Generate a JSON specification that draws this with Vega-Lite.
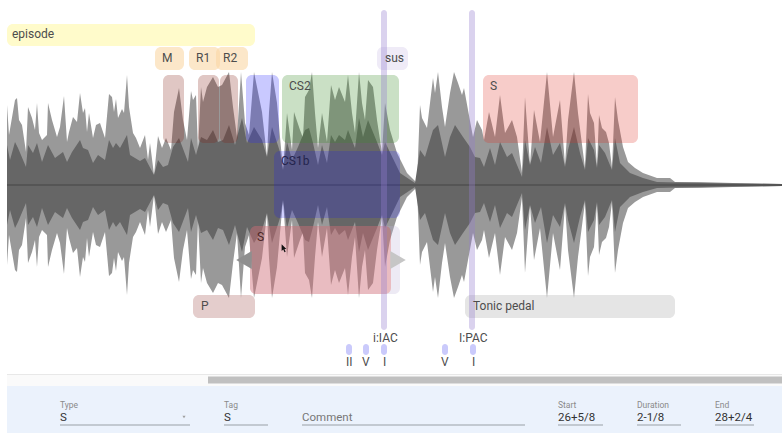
{"$schema":"https://vega.github.io/schema/vega-lite/v6.json","width":782,"height":433,"padding":0,"autosize":{"type":"fit","contains":"padding"},"background":"white","config":{"view":{"stroke":null}},
"datasets":{
"peak":[{"t":7,"hi":80,"lo":-80},{"t":9,"hi":50,"lo":-50},{"t":15,"hi":85,"lo":-85},{"t":17,"hi":87,"lo":-87},{"t":19,"hi":65,"lo":-65},{"t":22,"hi":60,"lo":-60},{"t":26,"hi":33,"lo":-33},{"t":28,"hi":78,"lo":-78},{"t":32,"hi":67,"lo":-67},{"t":35,"hi":55,"lo":-55},{"t":37,"hi":82,"lo":-82},{"t":39,"hi":52,"lo":-52},{"t":42,"hi":45,"lo":-45},{"t":47,"hi":50,"lo":-50},{"t":48,"hi":82,"lo":-82},{"t":52,"hi":65,"lo":-65},{"t":57,"hi":48,"lo":-48},{"t":60,"hi":58,"lo":-58},{"t":64,"hi":89,"lo":-89},{"t":67,"hi":43,"lo":-43},{"t":69,"hi":53,"lo":-53},{"t":73,"hi":68,"lo":-68},{"t":77,"hi":63,"lo":-63},{"t":80,"hi":92,"lo":-92},{"t":83,"hi":72,"lo":-72},{"t":85,"hi":77,"lo":-77},{"t":87,"hi":53,"lo":-53},{"t":89,"hi":72,"lo":-72},{"t":93,"hi":47,"lo":-47},{"t":96,"hi":60,"lo":-60},{"t":100,"hi":62,"lo":-62},{"t":105,"hi":47,"lo":-47},{"t":109,"hi":91,"lo":-91},{"t":112,"hi":88,"lo":-88},{"t":114,"hi":73,"lo":-73},{"t":116,"hi":86,"lo":-86},{"t":118,"hi":67,"lo":-67},{"t":122,"hi":76,"lo":-76},{"t":124,"hi":72,"lo":-72},{"t":127,"hi":110,"lo":-110},{"t":129,"hi":78,"lo":-78},{"t":133,"hi":52,"lo":-52},{"t":136,"hi":47,"lo":-47},{"t":140,"hi":37,"lo":-37},{"t":145,"hi":50,"lo":-50},{"t":148,"hi":25,"lo":-25},{"t":150,"hi":42,"lo":-42},{"t":154,"hi":10,"lo":-10},{"t":158,"hi":49,"lo":-49},{"t":162,"hi":37,"lo":-37},{"t":166,"hi":47,"lo":-47},{"t":171,"hi":35,"lo":-35},{"t":174,"hi":73,"lo":-73},{"t":179,"hi":97,"lo":-97},{"t":183,"hi":65,"lo":-65},{"t":187,"hi":45,"lo":-45},{"t":191,"hi":94,"lo":-94},{"t":193,"hi":85,"lo":-85},{"t":196,"hi":90,"lo":-90},{"t":198,"hi":35,"lo":-35},{"t":201,"hi":98,"lo":-98},{"t":203,"hi":83,"lo":-83},{"t":207,"hi":98,"lo":-98},{"t":213,"hi":108,"lo":-108},{"t":218,"hi":98,"lo":-98},{"t":222,"hi":100,"lo":-100},{"t":229,"hi":113,"lo":-113},{"t":233,"hi":78,"lo":-78},{"t":237,"hi":48,"lo":-48},{"t":241,"hi":113,"lo":-113},{"t":245,"hi":62,"lo":-62},{"t":249,"hi":50,"lo":-50},{"t":254,"hi":113,"lo":-113},{"t":262,"hi":73,"lo":-73},{"t":267,"hi":28,"lo":-28},{"t":269,"hi":73,"lo":-73},{"t":272,"hi":113,"lo":-113},{"t":277,"hi":82,"lo":-82},{"t":280,"hi":48,"lo":-48},{"t":283,"hi":15,"lo":-15},{"t":287,"hi":72,"lo":-72},{"t":292,"hi":35,"lo":-35},{"t":294,"hi":73,"lo":-73},{"t":300,"hi":55,"lo":-55},{"t":303,"hi":47,"lo":-47},{"t":305,"hi":88,"lo":-88},{"t":309,"hi":95,"lo":-95},{"t":312,"hi":113,"lo":-113},{"t":315,"hi":72,"lo":-72},{"t":318,"hi":37,"lo":-37},{"t":322,"hi":72,"lo":-72},{"t":327,"hi":43,"lo":-43},{"t":331,"hi":100,"lo":-100},{"t":335,"hi":85,"lo":-85},{"t":339,"hi":98,"lo":-98},{"t":345,"hi":83,"lo":-83},{"t":348,"hi":110,"lo":-110},{"t":352,"hi":72,"lo":-72},{"t":355,"hi":52,"lo":-52},{"t":359,"hi":113,"lo":-113},{"t":362,"hi":82,"lo":-82},{"t":365,"hi":65,"lo":-65},{"t":368,"hi":105,"lo":-105},{"t":373,"hi":98,"lo":-98},{"t":377,"hi":65,"lo":-65},{"t":382,"hi":32,"lo":-32},{"t":385,"hi":82,"lo":-82},{"t":390,"hi":55,"lo":-55},{"t":397,"hi":32,"lo":-32},{"t":407,"hi":12,"lo":-12},{"t":417,"hi":2,"lo":-2},{"t":420,"hi":80,"lo":-80},{"t":422,"hi":67,"lo":-67},{"t":427,"hi":57,"lo":-57},{"t":433,"hi":107,"lo":-107},{"t":435,"hi":92,"lo":-92},{"t":438,"hi":113,"lo":-113},{"t":442,"hi":78,"lo":-78},{"t":445,"hi":58,"lo":-58},{"t":450,"hi":92,"lo":-92},{"t":454,"hi":113,"lo":-113},{"t":458,"hi":102,"lo":-102},{"t":462,"hi":90,"lo":-90},{"t":464,"hi":97,"lo":-97},{"t":468,"hi":75,"lo":-75},{"t":473,"hi":48,"lo":-48},{"t":477,"hi":65,"lo":-65},{"t":482,"hi":55,"lo":-55},{"t":484,"hi":45,"lo":-45},{"t":489,"hi":73,"lo":-73},{"t":495,"hi":48,"lo":-48},{"t":500,"hi":90,"lo":-90},{"t":505,"hi":52,"lo":-52},{"t":512,"hi":65,"lo":-65},{"t":517,"hi":48,"lo":-48},{"t":522,"hi":12,"lo":-12},{"t":525,"hi":88,"lo":-88},{"t":530,"hi":20,"lo":-20},{"t":534,"hi":75,"lo":-75},{"t":540,"hi":43,"lo":-43},{"t":547,"hi":113,"lo":-113},{"t":553,"hi":48,"lo":-48},{"t":560,"hi":85,"lo":-85},{"t":565,"hi":20,"lo":-20},{"t":568,"hi":65,"lo":-65},{"t":574,"hi":113,"lo":-113},{"t":578,"hi":72,"lo":-72},{"t":585,"hi":17,"lo":-17},{"t":588,"hi":91,"lo":-91},{"t":590,"hi":72,"lo":-72},{"t":594,"hi":62,"lo":-62},{"t":597,"hi":18,"lo":-18},{"t":599,"hi":70,"lo":-70},{"t":602,"hi":57,"lo":-57},{"t":606,"hi":53,"lo":-53},{"t":609,"hi":42,"lo":-42},{"t":612,"hi":17,"lo":-17},{"t":615,"hi":88,"lo":-88},{"t":618,"hi":65,"lo":-65},{"t":623,"hi":38,"lo":-38},{"t":628,"hi":23,"lo":-23},{"t":635,"hi":17,"lo":-17},{"t":643,"hi":12,"lo":-12},{"t":657,"hi":7,"lo":-7},{"t":670,"hi":7,"lo":-7},{"t":675,"hi":3,"lo":-3},{"t":700,"hi":3,"lo":-3},{"t":733,"hi":2,"lo":-2},{"t":782,"hi":1,"lo":-1}],
"rms":[{"t":7,"hi":40,"lo":-40},{"t":10,"hi":25,"lo":-25},{"t":15,"hi":43,"lo":-43},{"t":18,"hi":37,"lo":-37},{"t":26,"hi":18,"lo":-18},{"t":28,"hi":40,"lo":-40},{"t":33,"hi":32,"lo":-32},{"t":37,"hi":42,"lo":-42},{"t":42,"hi":23,"lo":-23},{"t":48,"hi":40,"lo":-40},{"t":55,"hi":27,"lo":-27},{"t":63,"hi":33,"lo":-33},{"t":67,"hi":23,"lo":-23},{"t":72,"hi":33,"lo":-33},{"t":80,"hi":45,"lo":-45},{"t":83,"hi":37,"lo":-37},{"t":88,"hi":35,"lo":-35},{"t":93,"hi":22,"lo":-22},{"t":98,"hi":30,"lo":-30},{"t":105,"hi":25,"lo":-25},{"t":109,"hi":45,"lo":-45},{"t":113,"hi":37,"lo":-37},{"t":116,"hi":42,"lo":-42},{"t":120,"hi":37,"lo":-37},{"t":127,"hi":50,"lo":-50},{"t":130,"hi":30,"lo":-30},{"t":140,"hi":24,"lo":-24},{"t":145,"hi":27,"lo":-27},{"t":154,"hi":10,"lo":-10},{"t":158,"hi":25,"lo":-25},{"t":163,"hi":18,"lo":-18},{"t":168,"hi":20,"lo":-20},{"t":173,"hi":38,"lo":-38},{"t":179,"hi":47,"lo":-47},{"t":188,"hi":23,"lo":-23},{"t":191,"hi":47,"lo":-47},{"t":196,"hi":30,"lo":-30},{"t":201,"hi":48,"lo":-48},{"t":207,"hi":45,"lo":-45},{"t":213,"hi":55,"lo":-55},{"t":218,"hi":43,"lo":-43},{"t":223,"hi":45,"lo":-45},{"t":229,"hi":60,"lo":-60},{"t":235,"hi":40,"lo":-40},{"t":242,"hi":67,"lo":-67},{"t":247,"hi":42,"lo":-42},{"t":254,"hi":58,"lo":-58},{"t":262,"hi":45,"lo":-45},{"t":267,"hi":28,"lo":-28},{"t":272,"hi":58,"lo":-58},{"t":280,"hi":33,"lo":-33},{"t":283,"hi":15,"lo":-15},{"t":287,"hi":43,"lo":-43},{"t":292,"hi":25,"lo":-25},{"t":298,"hi":38,"lo":-38},{"t":305,"hi":55,"lo":-55},{"t":309,"hi":57,"lo":-57},{"t":313,"hi":42,"lo":-42},{"t":318,"hi":20,"lo":-20},{"t":322,"hi":40,"lo":-40},{"t":327,"hi":22,"lo":-22},{"t":331,"hi":50,"lo":-50},{"t":335,"hi":43,"lo":-43},{"t":339,"hi":50,"lo":-50},{"t":345,"hi":45,"lo":-45},{"t":348,"hi":55,"lo":-55},{"t":355,"hi":37,"lo":-37},{"t":359,"hi":67,"lo":-67},{"t":363,"hi":48,"lo":-48},{"t":368,"hi":65,"lo":-65},{"t":377,"hi":43,"lo":-43},{"t":382,"hi":30,"lo":-30},{"t":385,"hi":43,"lo":-43},{"t":400,"hi":12,"lo":-12},{"t":415,"hi":2,"lo":-2},{"t":420,"hi":35,"lo":-35},{"t":425,"hi":28,"lo":-28},{"t":433,"hi":55,"lo":-55},{"t":438,"hi":60,"lo":-60},{"t":445,"hi":28,"lo":-28},{"t":450,"hi":48,"lo":-48},{"t":455,"hi":60,"lo":-60},{"t":463,"hi":48,"lo":-48},{"t":470,"hi":38,"lo":-38},{"t":475,"hi":28,"lo":-28},{"t":480,"hi":27,"lo":-27},{"t":484,"hi":18,"lo":-18},{"t":490,"hi":37,"lo":-37},{"t":495,"hi":20,"lo":-20},{"t":500,"hi":43,"lo":-43},{"t":507,"hi":28,"lo":-28},{"t":512,"hi":32,"lo":-32},{"t":522,"hi":8,"lo":-8},{"t":525,"hi":45,"lo":-45},{"t":530,"hi":20,"lo":-20},{"t":535,"hi":38,"lo":-38},{"t":541,"hi":22,"lo":-22},{"t":547,"hi":58,"lo":-58},{"t":553,"hi":30,"lo":-30},{"t":560,"hi":42,"lo":-42},{"t":565,"hi":18,"lo":-18},{"t":568,"hi":35,"lo":-35},{"t":574,"hi":58,"lo":-58},{"t":580,"hi":32,"lo":-32},{"t":585,"hi":15,"lo":-15},{"t":588,"hi":47,"lo":-47},{"t":594,"hi":35,"lo":-35},{"t":597,"hi":17,"lo":-17},{"t":599,"hi":40,"lo":-40},{"t":605,"hi":32,"lo":-32},{"t":612,"hi":15,"lo":-15},{"t":615,"hi":47,"lo":-47},{"t":620,"hi":22,"lo":-22},{"t":630,"hi":12,"lo":-12},{"t":643,"hi":7,"lo":-7},{"t":657,"hi":3,"lo":-3},{"t":700,"hi":2,"lo":-2},{"t":782,"hi":1,"lo":-1}],
"spans":[
{"name":"episode","t0":7,"t1":255,"top":161,"bottom":139,"kind":"episode"},
{"name":"M","t0":155,"t1":184,"top":138,"bottom":115,"kind":"chip"},
{"name":"R1","t0":189,"t1":220,"top":138,"bottom":115,"kind":"chip"},
{"name":"R2","t0":216,"t1":248,"top":138,"bottom":115,"kind":"chip"},
{"name":"sus","t0":377,"t1":408,"top":138,"bottom":115,"kind":"sus"},
{"name":"M body","t0":163,"t1":184,"top":110,"bottom":42,"kind":"brown"},
{"name":"R1 body","t0":198,"t1":219,"top":110,"bottom":42,"kind":"brown"},
{"name":"R2 body","t0":220,"t1":238,"top":110,"bottom":42,"kind":"brown"},
{"name":"CS1","t0":246,"t1":279,"top":110,"bottom":42,"kind":"violet"},
{"name":"CS2","t0":282,"t1":399,"top":110,"bottom":42,"kind":"green"},
{"name":"CS1b","t0":274,"t1":400,"top":34,"bottom":-33,"kind":"blue"},
{"name":"S upper","t0":483,"t1":638,"top":110,"bottom":42,"kind":"red"},
{"name":"S panel","t0":250,"t1":400,"top":-41,"bottom":-109,"kind":"sel"},
{"name":"S lower","t0":250,"t1":391,"top":-41,"bottom":-109,"kind":"red"},
{"name":"P","t0":193,"t1":255,"top":-110,"bottom":-133,"kind":"pchip"},
{"name":"Tonic pedal","t0":465,"t1":675,"top":-110,"bottom":-133,"kind":"grey"},
{"name":"IAC","t0":381,"t1":387,"top":175,"bottom":-145,"kind":"cadence"},
{"name":"PAC","t0":469,"t1":475,"top":175,"bottom":-145,"kind":"cadence"},
{"name":"II","t0":346,"t1":352,"top":-159,"bottom":-170,"kind":"chord"},
{"name":"V","t0":363,"t1":369,"top":-159,"bottom":-170,"kind":"chord"},
{"name":"I","t0":381,"t1":387,"top":-159,"bottom":-170,"kind":"chord"},
{"name":"V2","t0":442,"t1":448,"top":-159,"bottom":-170,"kind":"chord"},
{"name":"I2","t0":470,"t1":476,"top":-159,"bottom":-170,"kind":"chord"}
],
"chrome":[
{"name":"centre","t0":7,"t1":782,"top":0.5,"bottom":-0.5,"kind":"centre"},
{"name":"divider","t0":7,"t1":782,"top":-189,"bottom":-190,"kind":"divider"},
{"name":"track","t0":7,"t1":782,"top":-190,"bottom":-201,"kind":"track"},
{"name":"thumb","t0":208,"t1":782,"top":-191.5,"bottom":-198.5,"kind":"thumb"},
{"name":"panel","t0":7,"t1":782,"top":-201,"bottom":-248,"kind":"panel"},
{"name":"type line","t0":60,"t1":190,"top":-239.5,"bottom":-240.5,"kind":"under"},
{"name":"tag line","t0":224,"t1":268,"top":-239.5,"bottom":-240.5,"kind":"under"},
{"name":"comment line","t0":302,"t1":525,"top":-239.5,"bottom":-240.5,"kind":"under"},
{"name":"start line","t0":558,"t1":603,"top":-239.5,"bottom":-240.5,"kind":"under"},
{"name":"duration line","t0":637,"t1":681,"top":-239.5,"bottom":-240.5,"kind":"under"},
{"name":"end line","t0":715,"t1":754,"top":-239.5,"bottom":-240.5,"kind":"under"}
],
"labels":[
{"text":"episode","t":12,"a":151,"kind":"annot"},
{"text":"M","t":162,"a":127,"kind":"annot"},
{"text":"R1","t":196,"a":127,"kind":"annot"},
{"text":"R2","t":223,"a":127,"kind":"annot"},
{"text":"sus","t":385,"a":127,"kind":"annot"},
{"text":"CS2","t":289,"a":99,"kind":"annot"},
{"text":"CS1b","t":281,"a":24,"kind":"onblue"},
{"text":"S","t":490,"a":99,"kind":"annot"},
{"text":"S","t":257,"a":-52,"kind":"onred"},
{"text":"P","t":201,"a":-121,"kind":"annot"},
{"text":"Tonic pedal","t":473,"a":-121,"kind":"annot"},
{"text":"i:IAC","t":373,"a":-153,"kind":"annot"},
{"text":"I:PAC","t":459,"a":-153,"kind":"annot"},
{"text":"II","t":346,"a":-177,"kind":"annot"},
{"text":"V","t":362,"a":-177,"kind":"annot"},
{"text":"I","t":383,"a":-177,"kind":"annot"},
{"text":"V","t":441,"a":-177,"kind":"annot"},
{"text":"I","t":472,"a":-177,"kind":"annot"},
{"text":"Type","t":60,"a":-220,"kind":"small"},
{"text":"Tag","t":224,"a":-220,"kind":"small"},
{"text":"Start","t":558,"a":-220,"kind":"small"},
{"text":"Duration","t":637,"a":-220,"kind":"small"},
{"text":"End","t":715,"a":-220,"kind":"small"},
{"text":"S","t":60,"a":-233,"kind":"value"},
{"text":"S","t":224,"a":-233,"kind":"value"},
{"text":"Comment","t":302,"a":-233,"kind":"comment"},
{"text":"26+5/8","t":558,"a":-233,"kind":"value"},
{"text":"2-1/8","t":637,"a":-233,"kind":"value"},
{"text":"28+2/4","t":715,"a":-233,"kind":"value"}
],
"arrows":[
{"t":244,"a":-75,"kind":"left"},
{"t":398,"a":-75,"kind":"right"}
],
"drop":[{"t":184,"a":-232}],
"pointer":[{"t":284,"a":-64}]
},
"layer":[
{"data":{"name":"peak"},"mark":{"type":"area","color":"#999999"},"encoding":{"x":{"field":"t","type":"quantitative","axis":null,"scale":{"domain":[0,782],"nice":false,"zero":false}},"y":{"field":"hi","type":"quantitative","axis":null,"scale":{"domain":[-248,185],"nice":false,"zero":false}},"y2":{"field":"lo"}}},
{"data":{"name":"rms"},"mark":{"type":"area","color":"#666666"},"encoding":{"x":{"field":"t","type":"quantitative"},"y":{"field":"hi","type":"quantitative"},"y2":{"field":"lo"}}},
{"data":{"name":"chrome"},"mark":{"type":"rect"},"encoding":{"x":{"field":"t0","type":"quantitative"},"x2":{"field":"t1"},"y":{"field":"top","type":"quantitative"},"y2":{"field":"bottom"},"color":{"field":"kind","type":"nominal","legend":null,"scale":{"domain":["centre","divider","track","thumb","panel","under"],"range":["#444444","#e8e8e8","#fafafa","#c0c0c0","#ebf2fc","#9aa0a6"]}}}},
{"data":{"name":"spans"},"mark":{"type":"rect","cornerRadius":6},"encoding":{"x":{"field":"t0","type":"quantitative"},"x2":{"field":"t1"},"y":{"field":"top","type":"quantitative"},"y2":{"field":"bottom"},"color":{"field":"kind","type":"nominal","legend":null,"scale":{"domain":["episode","chip","sus","brown","violet","green","blue","red","sel","pchip","grey","cadence","chord"],"range":["rgba(255,250,190,0.8)","rgba(250,215,165,0.6)","rgba(215,205,235,0.4)","rgba(130,30,20,0.25)","rgba(40,40,255,0.25)","rgba(60,140,40,0.27)","rgba(20,20,255,0.2)","rgba(225,50,40,0.25)","rgba(190,180,215,0.28)","rgba(170,100,95,0.32)","rgba(150,150,150,0.25)","rgba(150,125,205,0.35)","rgba(180,180,250,0.7)"]}}}},
{"data":{"name":"arrows"},"mark":{"type":"point","filled":true,"opacity":1,"size":320},"encoding":{"x":{"field":"t","type":"quantitative"},"y":{"field":"a","type":"quantitative"},"shape":{"field":"kind","type":"nominal","legend":null,"scale":{"domain":["left","right"],"range":["triangle-left","triangle-right"]}},"color":{"field":"kind","type":"nominal","legend":null,"scale":{"domain":["left","right"],"range":["#8f8f8f","#c6c6c6"]}}}},
{"data":{"name":"drop"},"mark":{"type":"point","filled":true,"opacity":1,"size":10,"shape":"triangle-down","color":"#a0a0a0"},"encoding":{"x":{"field":"t","type":"quantitative"},"y":{"field":"a","type":"quantitative"}}},
{"data":{"name":"pointer"},"mark":{"type":"point","filled":true,"color":"#111111","opacity":1,"size":90,"shape":"M-0.5,-1 L-0.5,0.4 L-0.15,0.1 L0.1,0.7 L0.35,0.6 L0.1,0 L0.5,0 Z"},"encoding":{"x":{"field":"t","type":"quantitative"},"y":{"field":"a","type":"quantitative"}}},
{"data":{"name":"labels"},"mark":{"type":"text","font":"Roboto","align":"left","baseline":"middle"},"encoding":{"x":{"field":"t","type":"quantitative"},"y":{"field":"a","type":"quantitative"},"text":{"field":"text"},"color":{"field":"kind","type":"nominal","legend":null,"scale":{"domain":["annot","onblue","onred","small","value","comment"],"range":["#4d4d4d","#24244d","#4d2626","#8a8a8a","#333333","#777777"]}},"size":{"field":"kind","type":"nominal","legend":null,"scale":{"type":"ordinal","domain":["annot","onblue","onred","small","value","comment"],"range":[12,12,12,8.5,11.5,11.5]}}}}
],
"resolve":{"scale":{"color":"independent","size":"independent","shape":"independent"}}}
